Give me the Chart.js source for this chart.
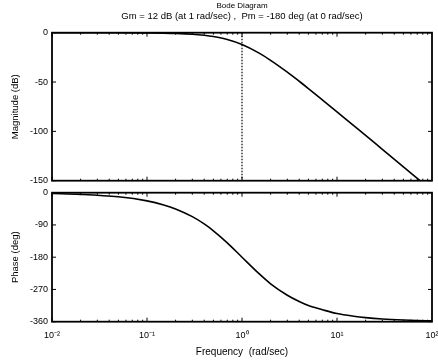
<!DOCTYPE html>
<html>
<head>
<meta charset="utf-8">
<script src="https://cdn.jsdelivr.net/npm/chart.js@4"></script>
<style>
	html, body { margin: 0; padding: 0; background: #fff; }
	#wrap { position: relative; width: 438px; height: 364px; }
	#wrap canvas { position: absolute; left: 0; top: 0; }
</style>
</head>
<body>
<div id="wrap">
	<canvas id="magChart" width="438" height="364"></canvas>
	<canvas id="phaseChart" width="438" height="364"></canvas>
</div>
<script>
// frequency points (rad/sec)
const freq = [0.01, 0.02, 0.05, 0.1, 0.15, 0.2, 0.3, 0.4, 0.5, 0.7, 1, 1.5, 2, 3, 4, 5, 7, 10, 15, 20, 30, 50, 70, 100];
const magDb = [0, 0, 0, -0.2, -0.4, -0.7, -1.5, -2.6, -3.9, -6.9, -12, -20.5, -28, -40, -49.2, -56.6, -68, -80.2, -94.2, -104.1, -118.2, -135.9, -147.6, -160];
const phaseDeg = [-2.3, -4.6, -11.4, -22.8, -34.1, -45.2, -66.8, -87.2, -106.3, -139.9, -180, -225.2, -254.3, -286.2, -303.8, -315.1, -326.5, -337.2, -344.7, -348.6, -352.4, -355.4, -356.7, -357.7];

// gain margin marker at 1 rad/sec
const gmFreq = [1, 1];
const gmDb = [0, -150];

const freqTicks = [0.01, 0.1, 1, 10, 100];
const freqTickLabels = ["10\u207B\u00B2", "10\u207B\u00B9", "10\u2070", "10\u00B9", "10\u00B2"];
const magTicks = [0, -50, -100, -150];
const phaseTicks = [0, -90, -180, -270, -360];

const font = "'Liberation Sans', Arial, sans-serif";
Chart.defaults.font.family = font;
Chart.defaults.font.size = 9;
Chart.defaults.color = "#000";

const toPoints = (xs, ys) => xs.map((x, i) => ({ x: x, y: ys[i] }));

// box + inward tick marks, matlab style
const boxPlugin = {
	id: "box",
	afterDraw(chart) {
		const { ctx, chartArea: a, scales } = chart;
		const xs = scales.x, ys = scales.y;
		ctx.save();
		ctx.strokeStyle = "#000";
		ctx.lineWidth = 1.8;
		ctx.strokeRect(a.left, a.top, a.right - a.left, a.bottom - a.top);
		ctx.lineWidth = 1;
		ctx.beginPath();
		for (let d = 0.01; d < 100; d *= 10) {
			for (let k = 1; k < 10; k++) {
				const px = xs.getPixelForValue(d * k);
				const len = k === 1 ? 4 : 2;
				ctx.moveTo(px, a.bottom); ctx.lineTo(px, a.bottom - len);
				ctx.moveTo(px, a.top); ctx.lineTo(px, a.top + len);
			}
		}
		ys.ticks.forEach(t => {
			const py = ys.getPixelForValue(t.value);
			ctx.moveTo(a.left, py); ctx.lineTo(a.left + 4, py);
			ctx.moveTo(a.right, py); ctx.lineTo(a.right - 4, py);
		});
		ctx.stroke();
		ctx.restore();
	}
};

function xAxis(showLabels) {
	return {
		type: "logarithmic",
		min: 0.01,
		max: 100,
		grid: { display: false, drawTicks: false },
		border: { display: false },
		afterBuildTicks: s => { s.ticks = freqTicks.map(v => ({ value: v })); },
		afterFit: s => {
			s.height = showLabels ? 42.3 : 0;
			// let the last label hang past the plot edge
			s.paddingLeft = 0;
			s.paddingRight = 0;
		},
		ticks: {
			display: showLabels,
			padding: 8,
			autoSkip: false,
			maxRotation: 0,
			callback: (v) => freqTickLabels[freqTicks.indexOf(v)]
		},
		title: {
			display: showLabels,
			text: "Frequency  (rad/sec)",
			font: { size: 10 },
			padding: { top: 0, bottom: 5.3 }
		}
	};
}

function yAxis(min, max, tickList, label) {
	return {
		min: min,
		max: max,
		grid: { display: false, drawTicks: false },
		border: { display: false },
		afterBuildTicks: s => { s.ticks = tickList.map(v => ({ value: v })); },
		afterFit: s => { s.width = 52; },
		ticks: { padding: 4, autoSkip: false },
		title: { display: true, text: label, font: { size: 9.5 }, padding: { top: 10, bottom: 0 } }
	};
}

const lineStyle = {
	borderColor: "#000",
	borderWidth: 1.6,
	pointRadius: 0,
	fill: false,
	cubicInterpolationMode: "monotone"
};

new Chart(document.getElementById("magChart"), {
	type: "line",
	data: {
		datasets: [
			Object.assign({ data: toPoints(freq, magDb) }, lineStyle),
			{
				data: toPoints(gmFreq, gmDb),
				borderColor: "#000",
				borderWidth: 1.2,
				borderDash: [1.5, 1.5],
				pointRadius: 0
			}
		]
	},
	options: {
		responsive: false,
		animation: false,
		events: [],
		layout: { padding: { left: 0, right: 6, top: 0, bottom: 183.3 } },
		plugins: {
			legend: { display: false },
			tooltip: { enabled: false },
			title: {
				display: true,
				fullSize: false,
				text: "Bode Diagram",
				font: { size: 8, weight: "normal" },
				padding: { top: 1, bottom: 0 }
			},
			subtitle: {
				display: true,
				fullSize: false,
				text: "Gm = 12 dB (at 1 rad/sec) ,  Pm = -180 deg (at 0 rad/sec)",
				font: { size: 9.5 },
				color: "#000",
				padding: { top: 0, bottom: 10.7 }
			}
		},
		scales: {
			x: xAxis(false),
			y: yAxis(-150, 0, magTicks, "Magnitude (dB)")
		}
	},
	plugins: [boxPlugin]
});

new Chart(document.getElementById("phaseChart"), {
	type: "line",
	data: {
		datasets: [Object.assign({ data: toPoints(freq, phaseDeg) }, lineStyle)]
	},
	options: {
		responsive: false,
		animation: false,
		events: [],
		layout: { padding: { left: 0, right: 6, top: 192.7, bottom: 0 } },
		plugins: {
			legend: { display: false },
			tooltip: { enabled: false }
		},
		scales: {
			x: xAxis(true),
			y: yAxis(-360, 0, phaseTicks, "Phase (deg)")
		}
	},
	plugins: [boxPlugin]
});
</script>
</body>
</html>
